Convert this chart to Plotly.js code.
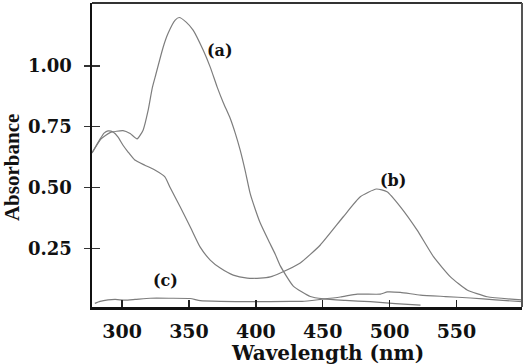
<!DOCTYPE html>
<html>
<head>
<meta charset="utf-8">
<script src="https://cdn.plot.ly/plotly-3.0.1.min.js"></script>
<style>
  html, body { margin: 0; padding: 0; background: #fff; }
  #chart { width: 524px; height: 364px; }
</style>
</head>
<body>
<div id="chart"></div>
<script>
// Curve (a)
const wlA = [277.5, 284.3, 291.0, 300.7, 306.0, 311.2, 315.7, 319.5, 322.5, 324.7, 330.7, 334.4, 339.7, 342.7, 347.9, 353.1, 360.6, 365.9, 371.1, 375.6, 380.8, 384.6, 388.3, 392.1, 395.8, 399.6, 403.3, 409.3, 414.5, 418.3, 428.0, 440.7, 450.5, 466.9, 485.6, 504.3, 523.1];
const absA = [0.642, 0.700, 0.726, 0.734, 0.722, 0.700, 0.736, 0.818, 0.908, 0.954, 1.077, 1.134, 1.188, 1.199, 1.180, 1.147, 1.065, 0.995, 0.913, 0.850, 0.785, 0.724, 0.654, 0.568, 0.475, 0.410, 0.354, 0.284, 0.226, 0.178, 0.095, 0.052, 0.042, 0.036, 0.031, 0.023, 0.017];
// Curve (b)
const wlB = [277.5, 283.5, 286.5, 289.5, 293.3, 297.0, 300.7, 304.5, 309.5, 317.0, 324.5, 332.0, 335.9, 343.4, 350.9, 358.4, 365.9, 373.4, 383.1, 393.6, 403.3, 410.8, 418.3, 433.2, 448.2, 465.4, 478.1, 490.1, 498.1, 508.1, 520.6, 532.8, 545.5, 558.0, 573.0, 599.0];
const absB = [0.642, 0.699, 0.724, 0.733, 0.728, 0.707, 0.674, 0.646, 0.613, 0.592, 0.572, 0.544, 0.500, 0.421, 0.339, 0.255, 0.202, 0.169, 0.140, 0.128, 0.128, 0.133, 0.149, 0.190, 0.264, 0.380, 0.462, 0.494, 0.483, 0.421, 0.325, 0.216, 0.133, 0.079, 0.051, 0.038];
// Curve (c)
const wlC = [279.6, 283.5, 289.5, 294.8, 302.2, 309.7, 321.0, 335.9, 350.9, 358.4, 373.4, 395.8, 425.7, 434.7, 448.2, 463.2, 475.9, 493.1, 498.4, 508.1, 523.1, 541.8, 560.5, 579.2, 599.0];
const absC = [0.024, 0.032, 0.038, 0.040, 0.037, 0.040, 0.045, 0.045, 0.044, 0.035, 0.032, 0.031, 0.032, 0.032, 0.040, 0.050, 0.062, 0.062, 0.071, 0.069, 0.058, 0.052, 0.046, 0.038, 0.031];

const curveLabels = ['(a)', '(b)', '(c)'];
const labelX = [373.4, 502.8, 332.2];
const labelY = [1.065, 0.530, 0.119];

const xTicks = [300, 350, 400, 450, 500, 550];
const xTickLabels = ['300', '350', '400', '450', '500', '550'];
const yTicks = [0.25, 0.50, 0.75, 1.00];
const yTickLabels = ['0.25', '0.50', '0.75', '1.00'];

const bold = s => '<b>' + s + '</b>';

const lineStyle = { color: '#7d7d7d', width: 1.2, shape: 'spline', smoothing: 0.5 };
const traces = [
  { x: wlA, y: absA, mode: 'lines', line: lineStyle, hoverinfo: 'skip' },
  { x: wlB, y: absB, mode: 'lines', line: lineStyle, hoverinfo: 'skip' },
  { x: wlC, y: absC, mode: 'lines', line: lineStyle, hoverinfo: 'skip' },
  // carrier for the inner tick marks of the left axis (not visible)
  { x: wlC, y: absC, yaxis: 'y2', mode: 'lines', line: { color: 'rgba(0,0,0,0)', width: 0 }, hoverinfo: 'skip' }
];

const tickFontY = { family: 'DejaVu Serif', size: 18, color: '#111' };
const tickFontX = { family: 'DejaVu Serif', size: 19, color: '#111' };
const yRange = [0.009, 1.2587];

const annotations = curveLabels.map((t, i) => ({
  x: labelX[i], y: labelY[i], xref: 'x', yref: 'y', text: bold(t), showarrow: false,
  xanchor: 'center', yanchor: 'middle',
  font: { family: 'DejaVu Serif', size: 16, color: '#111' }
}));
const aw = 524 - 92 - 2.4, ah = 364 - 2.7 - 57;
annotations.push({
  x: (327 - 92) / aw, y: (364 - 57 - 353) / ah, xref: 'paper', yref: 'paper',
  xanchor: 'center', yanchor: 'middle',
  text: bold('Wavelength (nm)'), showarrow: false,
  font: { family: 'DejaVu Serif', size: 20, color: '#111' }
});
annotations.push({
  x: (12 - 92) / aw, y: (364 - 57 - 167) / ah, xref: 'paper', yref: 'paper',
  xanchor: 'center', yanchor: 'middle', textangle: -90,
  text: bold('Absorbance'), showarrow: false,
  font: { family: 'Liberation Serif', size: 21, color: '#111' }
});

const layout = {
  width: 524, height: 364,
  margin: { l: 92, r: 2.4, t: 2.7, b: 57, pad: 0 },
  paper_bgcolor: '#fff', plot_bgcolor: '#fff',
  showlegend: false,
  xaxis: {
    range: [277.5, 599], tickvals: xTicks, ticktext: xTickLabels.map(bold),
    ticks: 'inside', ticklen: 7, tickwidth: 1.5, tickcolor: '#222',
    showgrid: false, zeroline: false, showline: true, linecolor: '#111', linewidth: 2.5,
    tickfont: tickFontX, ticklabelstandoff: 6
  },
  yaxis: {
    range: yRange, tickvals: yTicks, ticktext: yTickLabels.map(bold),
    ticks: 'outside', ticklen: 6, tickwidth: 1.3, tickcolor: '#333',
    showgrid: false, zeroline: false, showline: true, linecolor: '#111', linewidth: 2.5,
    tickfont: tickFontY, ticklabelstandoff: 8
  },
  yaxis2: {
    range: yRange, tickvals: yTicks, overlaying: 'y', side: 'left', ticks: 'inside', ticklen: 8, tickwidth: 1.3, tickcolor: '#333',
    showticklabels: false, showgrid: false, zeroline: false, showline: false
  },
  shapes: [
    { type: 'line', xref: 'paper', yref: 'paper', x0: 0, x1: 1, y0: 1, y1: 1, line: { color: '#333', width: 2.2 } },
    { type: 'line', xref: 'paper', yref: 'paper', x0: 1, x1: 1, y0: 0, y1: 1, line: { color: '#555', width: 2 } }
  ],
  annotations: annotations
};

Plotly.newPlot('chart', traces, layout, { displayModeBar: false, staticPlot: true });
</script>
</body>
</html>
